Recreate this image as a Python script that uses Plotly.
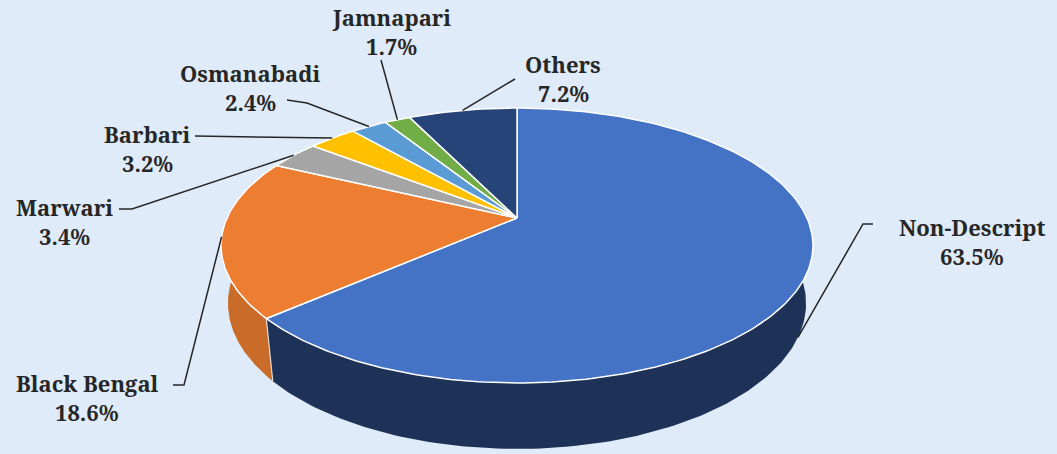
import numpy as np
import plotly.graph_objects as go

# ---------------- data ----------------
categories = ["Non-Descript", "Black Bengal", "Marwari", "Barbari",
              "Osmanabadi", "Jamnapari", "Others"]
shares = [63.5, 18.6, 3.4, 3.2, 2.4, 1.7, 7.2]
pct_labels = ["63.5%", "18.6%", "3.4%", "3.2%", "2.4%", "1.7%", "7.2%"]

# ---------------- style ----------------
top_colors = ["#4472C4", "#ED7D31", "#A5A5A5", "#FFC000", "#5B9BD5", "#70AD47", "#264478"]
side_colors = ["#1E3156", "#C96C29", "#7C7C7C", "#BF9000", "#41719C", "#548235", "#1C3358"]
BG = "#DFEBF8"
TXT = "#262626"
FONT = "Noto Serif"
FONT_SIZE = 22

# perspective view of the pie disc (pixel space)
CX, CY = 517, 218
SCALE = 290
SIN_E, COS_E = 0.455, 0.890
DIST = 4.45
DEPTH = 0.225

# label anchors (name centre) and leader elbows, layout only
label_pos = {
    "Non-Descript": (972, 227),
    "Black Bengal": (87, 383),
    "Marwari": (64, 207),
    "Barbari": (147, 134),
    "Osmanabadi": (250, 73),
    "Jamnapari": (391, 17),
    "Others": (563, 64),
}
leader_via = {
    "Non-Descript": [(863, 224), (873, 224)],
    "Black Bengal": [(184, 385), (173, 385)],
    "Marwari": [(132, 209), (119, 209)],
    "Barbari": [(195, 136)],
    "Osmanabadi": [(307, 103), (287, 100)],
    "Jamnapari": [(381, 60)],
    "Others": [(515, 79)],
}
leader_on_bottom = {"Non-Descript"}
LINE_GAP = 29


def project(phi, z):
    a = np.sin(phi)
    b = np.cos(phi)
    den = 1 + (b * COS_E - z * SIN_E) / DIST
    x = CX + SCALE * a / den
    y = CY - SCALE * (b * SIN_E + z * COS_E) / den
    return x, y


fig = go.Figure()
total = sum(shares)
bounds = np.concatenate([[0], np.cumsum(shares)]) / total * 2 * np.pi

# sides (front half only)
for i, cat in enumerate(categories):
    lo = max(bounds[i], np.pi / 2)
    hi = min(bounds[i + 1], 3 * np.pi / 2)
    if hi <= lo:
        continue
    ph = np.linspace(lo, hi, 120)
    xt, yt = project(ph, 0.0)
    xb, yb = project(ph[::-1], -DEPTH)
    fig.add_trace(go.Scatter(
        x=np.concatenate([xt, xb]), y=np.concatenate([yt, yb]),
        mode="lines", fill="toself", fillcolor=side_colors[i],
        line=dict(width=0, color=side_colors[i]), hoverinfo="skip"))

# vertical edges between visible sides
for i in range(1, len(categories)):
    phi = bounds[i]
    if np.pi / 2 < phi < 3 * np.pi / 2:
        x0, y0 = project(phi, 0.0)
        x1, y1 = project(phi, -DEPTH)
        fig.add_trace(go.Scatter(x=[x0, x1], y=[y0, y1], mode="lines",
                                 line=dict(color="rgba(255,255,255,0.75)", width=1.2),
                                 hoverinfo="skip"))

# top faces
for i, cat in enumerate(categories):
    ph = np.linspace(bounds[i], bounds[i + 1], max(8, int(400 * shares[i] / total)))
    xa, ya = project(ph, 0.0)
    fig.add_trace(go.Scatter(
        x=np.concatenate([[CX], xa, [CX]]), y=np.concatenate([[CY], ya, [CY]]),
        mode="lines", fill="toself", fillcolor=top_colors[i],
        line=dict(width=1.5, color="white"), hoverinfo="skip"))

# leader lines and labels
annotations = []
for i, cat in enumerate(categories):
    mid = (bounds[i] + bounds[i + 1]) / 2
    z = -DEPTH if cat in leader_on_bottom else 0.0
    sx, sy = project(mid, z)
    pts = [(sx, sy)] + leader_via[cat]
    fig.add_trace(go.Scatter(x=[p[0] for p in pts], y=[p[1] for p in pts],
                             mode="lines", line=dict(color=TXT, width=1.5),
                             hoverinfo="skip"))
    lx, ly = label_pos[cat]
    for txt, yy in ((cat, ly), (pct_labels[i], ly + LINE_GAP)):
        annotations.append(dict(x=lx, y=yy, text="<b>" + txt + "</b>", showarrow=False,
                                xanchor="center", yanchor="middle",
                                font=dict(family=FONT, size=FONT_SIZE, color=TXT)))

fig.update_layout(
    width=1057, height=454, autosize=False,
    margin=dict(l=0, r=0, t=0, b=0),
    paper_bgcolor=BG, plot_bgcolor=BG,
    showlegend=False,
    xaxis=dict(range=[0, 1057], visible=False, fixedrange=True),
    yaxis=dict(range=[454, 0], visible=False, fixedrange=True),
    annotations=annotations,
)

fig.write_html("out.html", config={"displayModeBar": False},
               post_script="document.body.style.margin='0';document.body.style.background='" + BG + "';")
